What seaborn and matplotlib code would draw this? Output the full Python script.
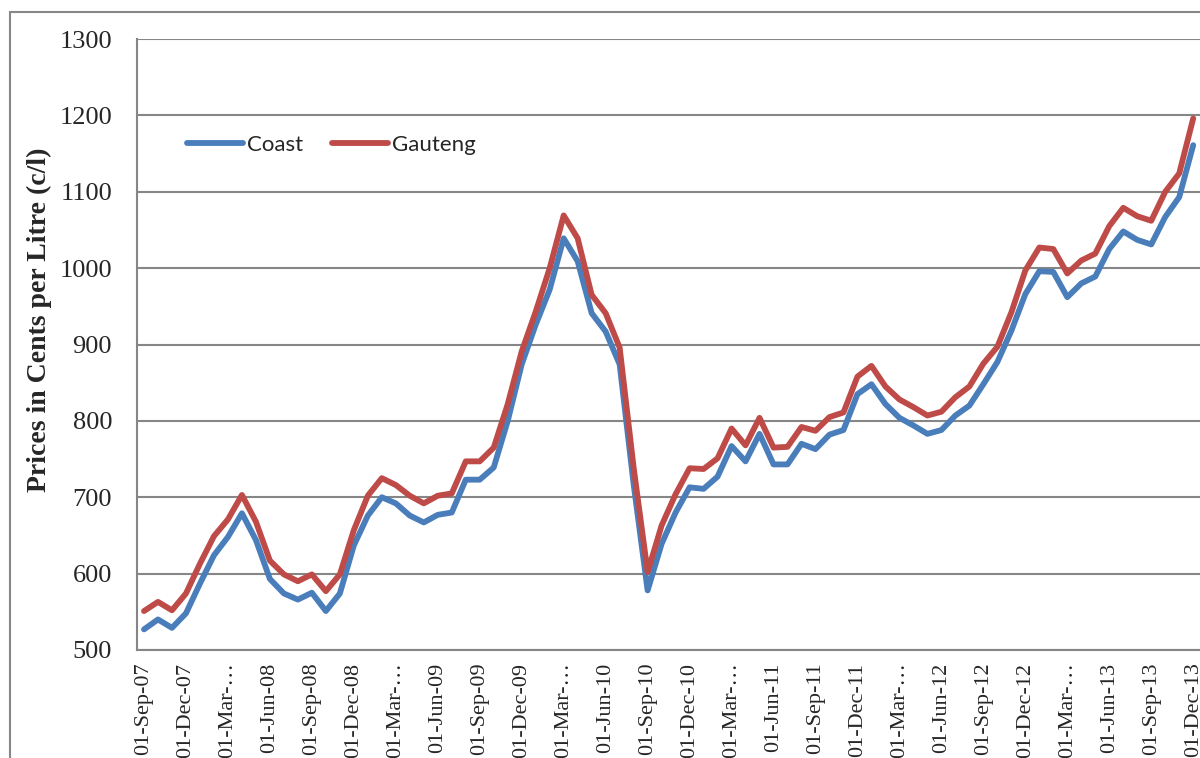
import pandas as pd
import seaborn as sns
import matplotlib.pyplot as plt
from matplotlib.patches import Rectangle

# monthly fuel prices, 01-Sep-07 .. 01-Dec-13 (cents per litre)
months = pd.date_range('2007-09-01', '2013-12-01', freq='MS')

coast = [527, 540, 529, 548, 587, 624, 648, 679, 644, 593, 574, 566, 575, 551, 574, 637,
         676, 700, 692, 676, 667, 677, 680, 723, 723, 739, 800, 874, 926, 972, 1039,
         1009, 941, 917, 874, 717, 578, 639, 680, 713, 711, 727, 767, 747, 783, 743,
         743, 770, 763, 782, 788, 835, 848, 822, 804, 794, 783, 788, 807, 820, 848,
         877, 918, 966, 996, 995, 962, 980, 989, 1025, 1048, 1037, 1031, 1067, 1093, 1161]

gauteng = [551, 563, 552, 574, 613, 649, 671, 703, 668, 617, 599, 590, 599, 577, 599, 657,
           702, 725, 716, 702, 692, 702, 705, 747, 747, 765, 822, 891, 943, 1000, 1069,
           1039, 965, 941, 896, 739, 602, 663, 704, 738, 737, 751, 790, 768, 804, 765,
           766, 792, 787, 805, 811, 858, 872, 845, 828, 818, 807, 812, 831, 845, 875,
           897, 942, 997, 1027, 1025, 993, 1010, 1019, 1055, 1079, 1068, 1062, 1100, 1124, 1196]

tick_labels = ['01-Sep-07', '01-Dec-07', '01-Mar-\u2026', '01-Jun-08', '01-Sep-08', '01-Dec-08',
               '01-Mar-\u2026', '01-Jun-09', '01-Sep-09', '01-Dec-09', '01-Mar-\u2026', '01-Jun-10',
               '01-Sep-10', '01-Dec-10', '01-Mar-\u2026', '01-Jun-11', '01-Sep-11', '01-Dec-11',
               '01-Mar-\u2026', '01-Jun-12', '01-Sep-12', '01-Dec-12', '01-Mar-\u2026', '01-Jun-13',
               '01-Sep-13', '01-Dec-13']

n = len(months)
df = pd.DataFrame({
    'idx': list(range(n)) * 2,
    'price': coast + gauteng,
    'region': ['Coast'] * n + ['Gauteng'] * n,
})

sns.set_style('white')
plt.rcParams['font.family'] = ['Liberation Serif', 'DejaVu Serif']

fig = plt.figure(figsize=(12, 7.58), dpi=100)
ax = fig.add_axes([137/1200, 1 - 650/758, 1066/1200, 611/758])

sns.lineplot(data=df, x='idx', y='price', hue='region',
             palette={'Coast': '#4A7EBB', 'Gauteng': '#BE4B48'},
             linewidth=4.2, ax=ax)
for ln in ax.lines:
    ln.set_solid_joinstyle('round')
    ln.set_solid_capstyle('round')

ax.set_xlim(-0.5, n - 0.3)
ax.set_ylim(500, 1300)
ax.set_yticks(range(500, 1301, 100))
ax.yaxis.grid(True, color='#868686', linewidth=1.5)
ax.set_axisbelow(True)

ax.set_xticks(range(0, n, 3))
ax.set_xticklabels(tick_labels, rotation=90, fontsize=16)
ax.set_xticks([i - 0.5 for i in range(0, n, 3)], minor=True)
ax.tick_params(axis='x', which='major', length=0, pad=9)
ax.tick_params(axis='x', which='minor', length=7, width=1.5, color='#868686', direction='out')
ax.tick_params(axis='y', length=8, width=1.5, color='#868686', direction='out',
               labelsize=19, pad=10)

for s in ['top', 'right']:
    ax.spines[s].set_visible(False)
for s in ['left', 'bottom']:
    ax.spines[s].set_color('#868686')
    ax.spines[s].set_linewidth(1.5)

ax.set_xlabel('')
ax.set_ylabel('Prices in Cents per Litre (c/l)', fontsize=20, fontweight='bold')
ax.yaxis.set_label_coords(-0.080, 0.54)

leg = ax.legend(loc='center left', bbox_to_anchor=(176/1200, 1 - 145/758),
                bbox_transform=fig.transFigure, ncol=2, frameon=False,
                handlelength=2.5, handletextpad=0.2, columnspacing=1.3,
                borderpad=0, prop={'family': 'Lato', 'size': 16})
for h in leg.get_lines():
    h.set_linewidth(4.2)
    h.set_solid_capstyle('round')

# outer chart border (cut off on the right and bottom)
fig.patches.append(Rectangle((10/1200, -0.2), 1.5, 1.2 - 12/758, transform=fig.transFigure,
                             fill=False, edgecolor='#878787', linewidth=1.5))

plt.savefig('out.png', dpi=100)
plt.close()
